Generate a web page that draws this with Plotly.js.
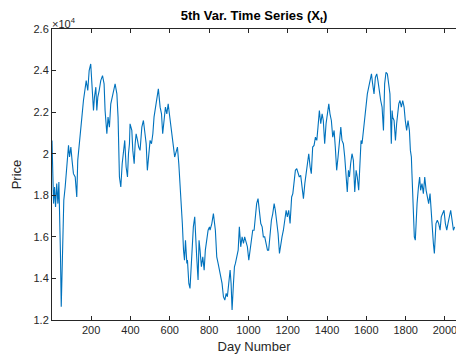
<!DOCTYPE html>
<html>
<head>
<meta charset="utf-8">
<script src="https://cdn.plot.ly/plotly-3.0.1.min.js"></script>
<style>html,body{margin:0;padding:0;background:#fff;}#chart{width:456px;height:356px;}</style>
</head>
<body>
<div id="chart"></div>
<script>
// Data (day number, price)
const days = [
1,5,9,14,19,25,31,36,40,44,48,53,56,61,68,76,85,90,97,103,110,119,127,132,141,147,153,161,168,175,183,190,198,205,212,217,224,229,234,241,249,258,266,271,280,286,293,300,307,314,322,331,337,344,351,358,364,371,378,385,390,395,
398,407,412,419,424,429,436,442,449,458,466,471,480,486,493,500,507,514,520,527,534,542,551,558,564,571,578,585,592,598,605,612,619,625,632,639,646,653,658,664,670,675,680,687,690,697,703,709,714,720,727,732,737,744,749,754,761,768,775,781,788,795,802,
805,814,822,832,839,846,853,859,866,873,880,887,893,900,907,912,917,924,929,934,941,948,954,961,968,975,981,988,995,1002,1009,1015,1022,1029,1036,1042,1049,1056,1063,1070,1076,1083,1090,1097,1103,1110,1117,1124,1131,1137,1144,1151,1158,1164,1171,1178,1185,1192,1198,1205,
1212,1215,1220,1226,1232,1239,1246,1253,1259,1266,1273,1280,1287,1293,1300,1307,1314,1320,1327,1334,1341,1348,1354,1361,1368,1375,1381,1388,1395,1402,1409,1415,1422,1429,1436,1442,1449,1456,1463,1470,1476,1483,1490,1497,1503,1509,1514,1520,1527,1534,1541,1548,1554,1561,1568,1573,1578,1585,1592,1598,1605,1612,
1619,1626,1632,1639,1646,1653,1659,1666,1673,1680,1687,1693,1700,1707,1714,1720,1727,1731,1734,1741,1748,1754,1759,1765,1771,1778,1785,1792,1798,1805,1812,1819,1824,1829,1832,1836,1839,1844,1849,1853,1858,1865,1871,1876,1883,1890,1897,1904,1910,1917,1924,1931,1937,1941,1946,1949,1954,1961,1968,1975,1981,1988,1995,2002,2009,2015,2022,2029,2036,2043,2049,2056
];
const price = [
20640,19200,17600,18400,17440,18560,17600,18640,15680,15200,12640,15200,16800,17760,18400,19360,20400,19840,20320,19680,19040,18880,17920,19680,20480,20960,21760,22560,23200,23520,23040,24000,24320,23040,22080,22720,23200,22080,22720,23040,23520,23760,23360,22080,20960,21760,21280,22400,22720,23040,23360,22880,21760,18880,18400,19520,20160,20640,19360,18880,20000,
20480,21440,21120,20160,19520,20480,20960,20640,20320,20160,21280,21600,21280,20480,19200,20160,20640,20480,20960,21760,22240,22720,23120,22240,21920,20960,21760,22240,21920,22400,21920,21280,20800,20320,19840,20160,20320,19520,18560,17920,16640,15360,14880,15840,14720,14880,13760,13520,14720,16000,16480,16960,15680,15040,13920,15840,15360,14560,15040,14400,15360,16000,16320,
16480,16320,16640,17120,16320,15040,14720,14400,14080,13760,13120,12960,13280,13120,13760,14400,13760,12480,13760,14560,14720,15040,15360,16480,15520,16000,15680,16000,15680,15520,14880,15360,15680,16320,16320,16960,17600,17840,17280,16640,16480,16000,16000,15680,15360,15360,16320,16800,17120,17600,17280,16800,16160,15200,15680,16000,16320,16800,17280,16960,
17280,16640,17440,17920,18080,18560,19200,19280,19040,18880,18960,18400,17840,18560,19040,19680,20000,19360,19040,20320,20400,20800,20640,21280,22080,21440,21920,21600,20480,21440,21920,22400,21920,21600,20800,21120,20320,19200,19840,20640,21280,20640,20480,19840,18720,18160,19200,18880,19520,20000,19680,18160,19200,18880,18240,19360,20640,20480,21120,21760,22240,22880,
23200,23520,23840,23360,22880,23680,23840,23520,22880,22560,22240,21120,23360,23920,23840,23360,22880,20480,22080,21760,21600,20640,21440,21920,22400,22560,22240,22560,22240,21600,21120,21600,21120,20160,19840,19040,18080,17440,16000,15840,16960,17600,18400,18880,18240,18560,18080,18880,18240,17920,17600,18080,16960,16320,15680,15200,16000,16640,16800,16640,16320,16960,17120,17280,16640,16320,16640,16960,17280,16800,16320,16480
];
const xTicks = [200,400,600,800,1000,1200,1400,1600,1800,2000];
const yTicks = [12000,14000,16000,18000,20000,22000,24000,26000];
const yTickText = ["1.2","1.4","1.6","1.8","2","2.2","2.4","2.6"];

const axisColor = "#262626";
const trace = {
  x: days, y: price, type: "scatter", mode: "lines",
  line: {color: "#0072BD", width: 1.1}, hoverinfo: "skip"
};
const layout = {
  width: 456, height: 356,
  margin: {l: 52, r: 0, t: 29, b: 36, pad: 0},
  paper_bgcolor: "#fff", plot_bgcolor: "#fff",
  font: {family: "Liberation Sans, Arial, sans-serif", size: 11, color: axisColor},
  showlegend: false,
  title: {text: "<b>5th Var. Time Series (X<sub>t</sub>)</b>", x: 0.5, xref: "paper", xanchor: "center", y: 0.957, yanchor: "middle", font: {size: 13, color: "#000"}},
  xaxis: {
    range: [1, 2056], tickvals: xTicks, ticktext: xTicks.map(String),
    ticks: "inside", ticklen: 4, tickcolor: axisColor, showline: true, linecolor: axisColor, linewidth: 1,
    mirror: "ticks", showgrid: false, zeroline: false, ticklabeloverflow: "allow",
    tickfont: {size: 11, color: axisColor},
    title: {text: "Day Number", font: {size: 13, color: axisColor}, standoff: 6}
  },
  yaxis: {
    range: [12000, 26000], tickvals: yTicks, ticktext: yTickText,
    ticks: "inside", ticklen: 4, tickcolor: axisColor, showline: true, linecolor: axisColor, linewidth: 1,
    mirror: false, showgrid: false, zeroline: false, ticklabeloverflow: "allow",
    tickfont: {size: 11, color: axisColor},
    title: {text: "Price", font: {size: 13, color: axisColor}, standoff: 8}
  },
  annotations: [{
    text: "\u00d710<sup>4</sup>", xref: "paper", yref: "paper", x: 0, y: 1, xanchor: "left", yanchor: "bottom",
    showarrow: false, font: {size: 11, color: axisColor}, xshift: -2, yshift: -3
  }]
};
Plotly.newPlot("chart", [trace], layout, {displayModeBar: false, staticPlot: true});
</script>
</body>
</html>
